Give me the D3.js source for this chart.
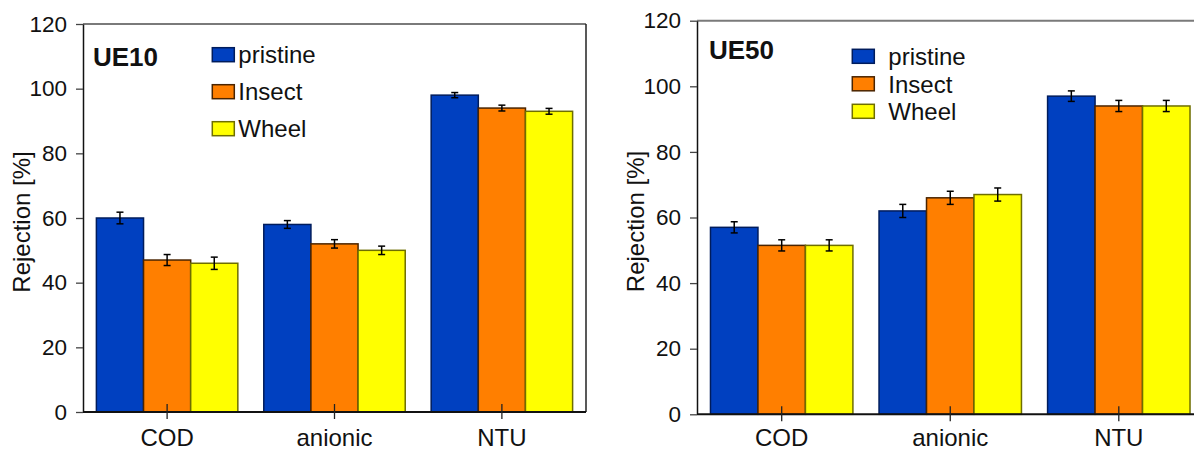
<!DOCTYPE html>
<html>
<head>
<meta charset="utf-8">
<script src="https://cdn.jsdelivr.net/npm/d3@7"></script>
<style>
  html, body { margin: 0; padding: 0; background: #fff; }
  svg { display: block; font-family: "Liberation Sans", Arial, sans-serif; }
</style>
</head>
<body>
<svg id="chart" width="1194" height="450"></svg>
<script>
// ---- data ----
const categories = ["COD", "anionic", "NTU"];
const seriesNames = ["pristine", "Insect", "Wheel"];
const yTicks = [0, 20, 40, 60, 80, 100, 120];

const ue10Pristine = [60, 58, 98];
const ue10Insect   = [47, 52, 94];
const ue10Wheel    = [46, 50, 93];
const ue10PristineErr = [1.8, 1.2, 0.8];
const ue10InsectErr   = [1.7, 1.3, 0.9];
const ue10WheelErr    = [1.9, 1.3, 0.9];

const ue50Pristine = [57, 62, 97];
const ue50Insect   = [51.5, 66, 94];
const ue50Wheel    = [51.5, 67, 94];
const ue50PristineErr = [1.7, 2.0, 1.6];
const ue50InsectErr   = [1.7, 2.0, 1.7];
const ue50WheelErr    = [1.7, 2.0, 1.7];

const fills   = ["#0040C0", "#FF7F00", "#FFFF00"];
const strokes = ["#001c5c", "#4a2400", "#6e6e00"];

const svg = d3.select("#chart");

function drawPanel(cfg) {
  const g = svg.append("g");
  const x = d3.scaleBand().domain(categories).range([cfg.left, cfg.right])
    .paddingInner(0.155).paddingOuter(0.08);
  const xs = d3.scaleBand().domain(seriesNames).range([0, x.bandwidth()]);
  const y = d3.scaleLinear().domain([0, 120]).range([cfg.bottom, cfg.top]);

  // frame: top (gray) and right
  g.append("line").attr("x1", cfg.left).attr("x2", cfg.right)
    .attr("y1", cfg.top).attr("y2", cfg.top)
    .attr("stroke", "#7a7a7a").attr("stroke-width", 2);
  g.append("line").attr("x1", cfg.right).attr("x2", cfg.right)
    .attr("y1", cfg.top).attr("y2", cfg.bottom)
    .attr("stroke", "#222").attr("stroke-width", 1.5);

  // bars
  const rows = [];
  seriesNames.forEach((s, si) => {
    categories.forEach((c, ci) => {
      rows.push({ s, si, c, v: cfg.values[si][ci], e: cfg.errors[si][ci] });
    });
  });

  g.selectAll("rect.bar").data(rows).enter().append("rect")
    .attr("class", "bar")
    .attr("x", d => x(d.c) + xs(d.s))
    .attr("y", d => y(d.v))
    .attr("width", xs.bandwidth())
    .attr("height", d => y(0) - y(d.v))
    .attr("fill", d => fills[d.si])
    .attr("stroke", d => strokes[d.si])
    .attr("stroke-width", 1.5);

  // error bars
  const eb = g.selectAll("g.err").data(rows).enter().append("g").attr("class", "err")
    .attr("stroke", "#000").attr("stroke-width", 1.5);
  const cx = d => x(d.c) + xs(d.s) + xs.bandwidth() / 2;
  eb.append("line").attr("x1", cx).attr("x2", cx)
    .attr("y1", d => y(d.v + d.e)).attr("y2", d => y(d.v - d.e));
  eb.append("line").attr("x1", d => cx(d) - 3.5).attr("x2", d => cx(d) + 3.5)
    .attr("y1", d => y(d.v + d.e)).attr("y2", d => y(d.v + d.e));
  eb.append("line").attr("x1", d => cx(d) - 3.5).attr("x2", d => cx(d) + 3.5)
    .attr("y1", d => y(d.v - d.e)).attr("y2", d => y(d.v - d.e));

  // y axis
  const ya = g.append("g").attr("transform", `translate(${cfg.left},0)`)
    .call(d3.axisLeft(y).tickValues(yTicks).tickSize(7).tickPadding(9).tickSizeOuter(0));
  ya.select(".domain").attr("stroke", "#111").attr("stroke-width", 1.5);
  ya.selectAll(".tick line").attr("stroke", "#444").attr("stroke-width", 1.3);
  ya.selectAll(".tick text").attr("font-size", 22.5).attr("fill", "#111")
    .attr("font-family", "Liberation Sans, Arial, sans-serif");

  // x axis
  g.append("line").attr("x1", cfg.left).attr("x2", cfg.right)
    .attr("y1", cfg.bottom).attr("y2", cfg.bottom)
    .attr("stroke", "#111").attr("stroke-width", 2);
  g.selectAll("line.xt").data(categories).enter().append("line").attr("class", "xt")
    .attr("x1", d => x(d) + x.bandwidth() / 2).attr("x2", d => x(d) + x.bandwidth() / 2)
    .attr("y1", cfg.bottom - 8).attr("y2", cfg.bottom + 7)
    .attr("stroke", "#222").attr("stroke-width", 1.3);
  g.selectAll("text.xl").data(categories).enter().append("text").attr("class", "xl")
    .attr("x", d => x(d) + x.bandwidth() / 2).attr("y", 446)
    .attr("text-anchor", "middle").attr("font-size", 24).attr("fill", "#111")
    .text(d => d);

  // y label
  g.append("text")
    .attr("transform", `translate(${cfg.ylabelX},${(cfg.top + cfg.bottom) / 2 + 4}) rotate(-90)`)
    .attr("text-anchor", "middle").attr("font-size", 24).attr("fill", "#111")
    .text("Rejection [%]");

  // title
  g.append("text").attr("x", cfg.titleX).attr("y", cfg.titleY)
    .attr("font-size", 26).attr("font-weight", "bold").attr("fill", "#111")
    .text(cfg.title);

  // legend
  const lg = g.selectAll("g.leg").data(seriesNames).enter().append("g").attr("class", "leg")
    .attr("transform", (d, i) => `translate(${cfg.legX},${cfg.legY + i * cfg.legStep})`);
  lg.append("rect").attr("x", 0).attr("y", 0).attr("width", 22).attr("height", 14)
    .attr("fill", (d, i) => fills[i]).attr("stroke", (d, i) => strokes[i]).attr("stroke-width", 1.5);
  lg.append("text").attr("x", cfg.legTextDx).attr("y", cfg.legTextDy).attr("font-size", 24).attr("fill", "#111")
    .text(d => d);
}

drawPanel({
  left: 83, right: 586, top: 24, bottom: 412,
  values: [ue10Pristine, ue10Insect, ue10Wheel],
  errors: [ue10PristineErr, ue10InsectErr, ue10WheelErr],
  title: "UE10", titleX: 93, titleY: 65.5,
  legX: 212.3, legY: 47.7, legStep: 37, legTextDx: 26, legTextDy: 14.8,
  ylabelX: 30
});

drawPanel({
  left: 697, right: 1203.5, top: 20.7, bottom: 414.3,
  values: [ue50Pristine, ue50Insect, ue50Wheel],
  errors: [ue50PristineErr, ue50InsectErr, ue50WheelErr],
  title: "UE50", titleX: 709, titleY: 59.3,
  legX: 852.3, legY: 49.3, legStep: 27.5, legTextDx: 36, legTextDy: 15.7,
  ylabelX: 644
});
</script>
</body>
</html>
